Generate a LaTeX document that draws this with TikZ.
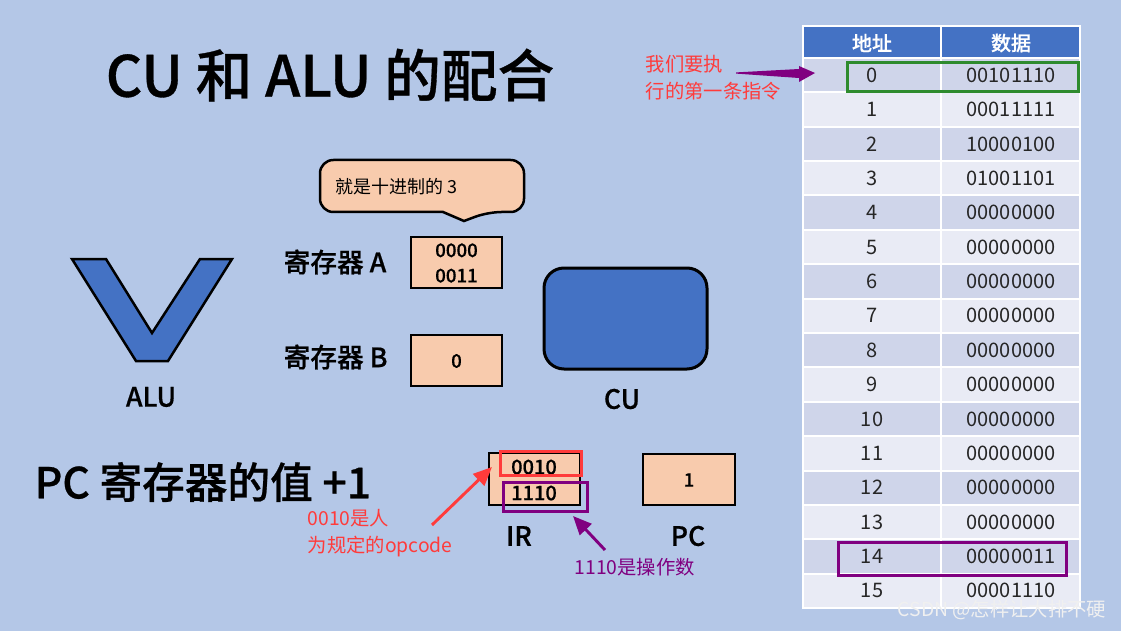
\documentclass[tikz,border=0pt]{standalone}
\usepackage{fontspec}
\setmainfont{Noto Sans CJK SC}[BoldFont={Noto Sans CJK SC Medium},BoldFeatures={FakeBold=0.6}]
\usetikzlibrary{arrows.meta}
\definecolor{bg}{HTML}{B4C7E7}
\definecolor{blu}{HTML}{4472C4}
\definecolor{peach}{HTML}{F8CBAD}
\definecolor{rowa}{HTML}{CFD5EA}
\definecolor{rowb}{HTML}{E9EBF5}
\definecolor{redt}{HTML}{FF3B3B}
\definecolor{purp}{HTML}{800080}
\definecolor{grn}{HTML}{2E8B2E}
\definecolor{tabtxt}{HTML}{262626}
\tikzset{
  regbox/.style={draw=black, line width=2.5pt*0.75, fill=peach},
  biglabel/.style={font=\fontsize{20}{24}\selectfont\bfseries, anchor=center},
  boxtxt/.style={font=\fontsize{14}{17}\selectfont\bfseries, align=center},
  celltxt/.style={font=\fontsize{15}{17}\selectfont, text=tabtxt},
  hdrtxt/.style={font=\fontsize{15}{17}\selectfont\bfseries, text=white},
  note/.style={font=\fontsize{14.5}{20}\selectfont, align=left, anchor=west},
  hl/.style={line width=3pt*0.75}
}
\begin{document}
\begin{tikzpicture}[x=0.75pt,y=-0.75pt]
\useasboundingbox (0,0) rectangle (1121,631);
\fill[bg] (0,0) rectangle (1121,631);

% title
\node[font=\fontsize{42.5}{46}\selectfont\bfseries] (title) at (330,75) {CU 和 ALU 的配合};

% ALU shape
\draw[fill=blu, line width=2.5pt*0.75, line join=miter] (72,259) -- (106,259) -- (152,333) -- (200,259) -- (232,259) -- (168,361) -- (136,361) -- cycle;
\node[biglabel] (alu) at (151,397) {ALU};

% speech bubble
\draw[fill=peach, line width=2.5pt*0.75] (320,186) [rounded corners=10pt] -- (320,160) -- (524,160) -- (524,212) -- (488,212) [sharp corners] -- (464,221) -- (443,212) [rounded corners=10pt] -- (320,212) [sharp corners] -- cycle;
\node[font=\fontsize{13.5}{16}\selectfont, anchor=west] (bubble) at (331,187) {就是十进制的 3};

% registers
\node[biglabel, anchor=west] (ralab) at (279,262) {寄存器 A};
\node[biglabel, anchor=west] (rblab) at (279,357) {寄存器 B};
\draw[regbox] (411,237) rectangle (502,288);
\node[boxtxt, font=\fontsize{14}{19}\selectfont\bfseries] (rega) at (456.5,263) {0000\\0011};
\draw[regbox] (411,335) rectangle (502,386);
\node[boxtxt] (regb) at (456.5,361) {0};

% CU
\draw[fill=blu, line width=3pt*0.75, rounded corners=20pt*0.75] (544,268) rectangle (707,369);
\node[biglabel] (cu) at (622,399) {CU};

% PC +1
\node[font=\fontsize{32}{36}\selectfont\bfseries, anchor=west] (pcinc) at (30,482) {PC 寄存器的值 +1};

% IR
\draw[regbox] (489,453) rectangle (580,505);
\node[boxtxt, font=\fontsize{15}{17}\selectfont\bfseries] (ir1) at (534,467) {0010};
\node[boxtxt, font=\fontsize{15}{17}\selectfont\bfseries] (ir2) at (534,493) {1110};
\draw[draw=redt, hl] (500,451) rectangle (581,475);
\draw[draw=purp, hl] (503,482) rectangle (587,511);
\node[biglabel] (irlab) at (519,536) {IR};

% PC
\draw[regbox] (643,454) rectangle (735,505);
\node[boxtxt] (pcval) at (689,480) {1};
\node[biglabel] (pclab) at (688,536) {PC};

% red annotation
\node[note, text=redt] (rednote) at (303,533) {0010是人\\为规定的opcode};
\coordinate (rtail) at (432,525);
\coordinate (rtip) at (492,467);
\draw[redt, line width=2.2pt, -{Triangle[length=14pt,width=12pt]}] (rtail) -- (rtip);

% purple annotation
\node[note, text=purp] (purpnote) at (570,567) {1110是操作数};
\coordinate (ptail) at (605,550);
\coordinate (ptip) at (573,516);
\draw[purp, line width=2.2pt, -{Triangle[length=14pt,width=12pt]}] (ptail) -- (ptip);

% table
\fill[blu] (803,26) rectangle (1080,58);
\foreach \i/\a/\d in {0/0/00101110,1/1/00011111,2/2/10000100,3/3/01001101,4/4/00000000,5/5/00000000,6/6/00000000,7/7/00000000,8/8/00000000,9/9/00000000,10/10/00000000,11/11/00000000,12/12/00000000,13/13/00000000,14/14/00000011,15/15/00001110}{
  \pgfmathsetmacro{\ya}{58+34.375*\i}
  \pgfmathsetmacro{\yb}{58+34.375*(\i+1)}
  \pgfmathsetmacro{\yc}{58+34.375*(\i+0.5)}
  \pgfmathparse{mod(\i,2)==0 ? "rowa" : "rowb"}
  \edef\rc{\pgfmathresult}
  \fill[\rc] (803,\ya) rectangle (1080,\yb);
  \node[celltxt] (addr\i) at (872,\yc) {\a};
  \node[celltxt] (data\i) at (1011,\yc) {\d};
}
\foreach \i in {0,...,16}{
  \pgfmathsetmacro{\ya}{58+34.375*\i}
  \draw[white, line width=1.5pt] (803,\ya) -- (1080,\ya);
}
\draw[white, line width=1.5pt] (941,26) -- (941,608);
\draw[white, line width=1.5pt] (803,26) rectangle (1080,608);
\node[hdrtxt] (h1) at (872,43) {地址};
\node[hdrtxt] (h2) at (1011,43) {数据};

% highlights in table
\draw[grn, hl] (847,63) rectangle (1078,92);
\draw[purp, hl] (838,542) rectangle (1066,575);

% first instruction note
\node[note, text=redt] (firstnote) at (641,78) {我们要执\\行的第一条指令};
\coordinate (ftail) at (736,73);
\coordinate (ftip) at (815,73);
\fill[purp] (ftail) -- ++(0,-0.6) -- (799,69) -- (799,66) -- (ftip) -- (799,82) -- (799,78) -- (736,73.6) -- cycle;

% watermark
\node[font=\fontsize{14.5}{16}\selectfont, text=white!88!gray, anchor=west] (wm) at (893,610) {CSDN @怎样让大排不硬};
\end{tikzpicture}
\end{document}
